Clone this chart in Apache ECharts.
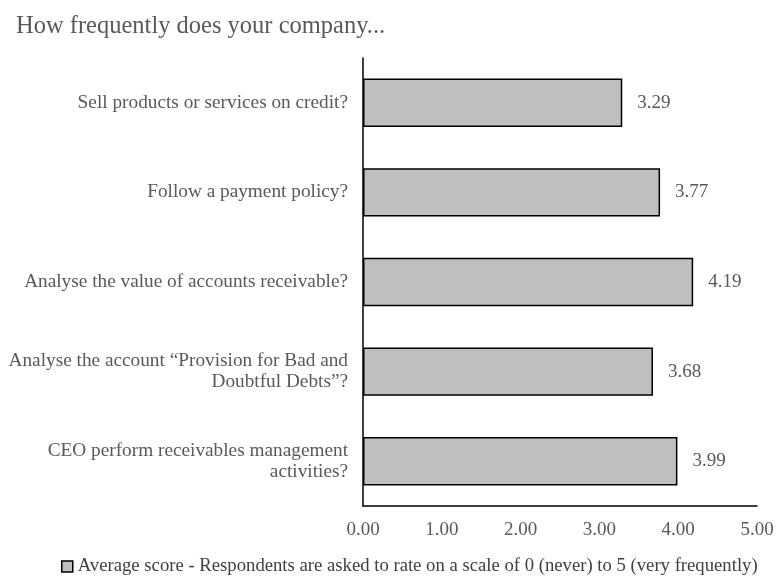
<!DOCTYPE html>
<html>
<head>
<meta charset="utf-8">
<title>Receivables</title>
<style>
html, body { margin: 0; width: 100%; height: 100%; background: #fff; }
#box1 { width: 778px; height: 584px; }
</style>
</head>
<body>
<div id="box1"></div>
<script src="https://cdn.jsdelivr.net/npm/echarts@6/dist/echarts.min.js"></script>
<script>
var categories = [
	'Sell products or services on credit?',
	'Follow a payment policy?',
	'Analyse the value of accounts receivable?',
	'Analyse the account \u201cProvision for Bad and\nDoubtful Debts\u201d?',
	'CEO perform receivables management\nactivities?'
];
var scores = [3.29, 3.77, 4.19, 3.68, 3.99];
var seriesName = 'Average score - Respondents are asked to rate on a scale of 0 (never) to 5 (very frequently)';

var font = '"Liberation Serif", "Times New Roman", serif';
var myChart = echarts.init(document.getElementById('box1'));

var option = {
	backgroundColor: '#fff',
	animation: false,
	title: {
		text: 'How frequently does your company...',
		left: 16, top: 14, padding: 0,
		textStyle: { fontFamily: font, fontSize: 24.5, fontWeight: 'normal', color: '#595959' }
	},
	legend: {
		bottom: 8, left: 61, padding: 0,
		itemWidth: 11, itemHeight: 11, itemGap: 3,
		textStyle: { fontFamily: font, fontSize: 18.7, color: '#404040' },
		data: [{ name: seriesName, icon: 'rect', itemStyle: { color: '#bfbfbf', borderColor: '#000', borderWidth: 1.5 } }]
	},
	grid: { left: 363, right: 21, top: 58, bottom: 78 },
	xAxis: {
		type: 'value', min: 0, max: 5, interval: 1,
		axisLine: { show: true, lineStyle: { color: '#000', width: 1.5 } },
		axisTick: { show: false },
		splitLine: { show: false },
		axisLabel: {
			margin: 15, fontFamily: font, fontSize: 19, color: '#595959',
			formatter: function (v) { return v.toFixed(2); }
		}
	},
	yAxis: {
		type: 'category', inverse: true, data: categories,
		axisLine: { lineStyle: { color: '#000', width: 1.5 } },
		axisTick: { show: false },
		axisLabel: { margin: 15, fontFamily: font, fontSize: 19.3, color: '#595959', lineHeight: 21, align: 'right' }
	},
	series: [{
		name: seriesName, type: 'bar', data: scores,
		barCategoryGap: '46%',
		itemStyle: { color: '#bfbfbf', borderColor: '#000', borderWidth: 1.5 },
		label: {
			show: true, position: 'right', distance: 15,
			fontFamily: font, fontSize: 19, color: '#595959',
			formatter: function (p) { return p.value.toFixed(2); }
		}
	}]
};

myChart.setOption(option);
window.addEventListener('resize', function () { myChart.resize(); });
</script>
</body>
</html>
